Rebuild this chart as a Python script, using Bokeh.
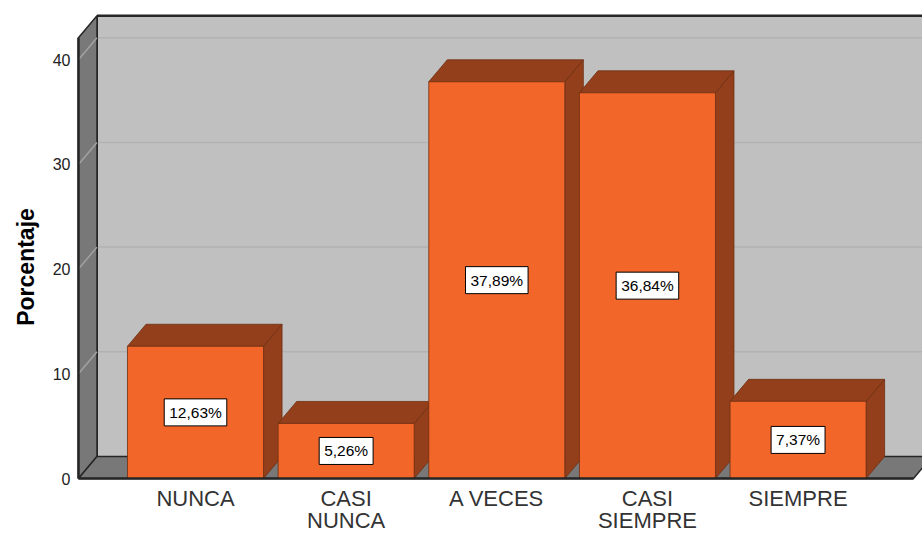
from bokeh.plotting import figure
from bokeh.models import Range1d, FixedTicker
from bokeh.core.properties import value
from bokeh.embed import file_html
from bokeh.resources import INLINE

# ---------------- data ----------------
categories = ["NUNCA", "CASI\nNUNCA", "A VECES", "CASI\nSIEMPRE", "SIEMPRE"]
percentages = [12.63, 5.26, 37.89, 36.84, 7.37]
pct_labels = ["12,63%", "5,26%", "37,89%", "36,84%", "7,37%"]
y_ticks = [0, 10, 20, 30, 40]

# ---------------- style / layout ----------------
FONT = "Liberation Sans"
FRONT = "#f26629"
SHADE = "#933f1b"
EDGE = "#6e2f12"
WALL_BACK = "#c0c0c0"
WALL_SIDE = "#787878"
GRID_BACK = "#b2b2b2"
GRID_SIDE = "#a2a2a2"
DARK = "#262626"

PX_PER_UNIT = 10.47
X_START, X_END = -0.79, 4.826
Y_START, Y_END = -(533 - 478) / PX_PER_UNIT, 478 / PX_PER_UNIT
WALL_X0 = -0.777        # front edge of the left wall
FLOOR_X1 = 4.766        # front right end of the floor
WALL_TOP = 42.1         # top of the walls (front)
DX, DY = 0.123, 2.1     # 3D depth offset
BAR_W = 0.903
CAT_LABEL_Y = -0.75     # top of category labels, below the floor edge

p = figure(width=922, height=533, output_backend="svg", toolbar_location=None,
           x_range=Range1d(X_START, X_END), y_range=Range1d(Y_START, Y_END),
           min_border_left=76, min_border_right=0, min_border_top=0,
           min_border_bottom=0)
p.outline_line_color = None
p.xgrid.visible = False
p.ygrid.visible = False
p.background_fill_color = "white"
p.border_fill_color = "white"

right_far = X_END + 1.0

# back wall
p.quad(left=[WALL_X0 + DX], right=[right_far], bottom=[DY], top=[WALL_TOP + DY],
       fill_color=WALL_BACK, line_color=None)
# back-wall gridlines
gv = y_ticks[1:]
p.segment(x0=[WALL_X0 + DX] * len(gv), y0=[v + DY for v in gv],
          x1=[right_far] * len(gv), y1=[v + DY for v in gv],
          line_color=GRID_BACK, line_width=1.5)
# back wall top and left edges
p.line([WALL_X0 + DX, right_far], [WALL_TOP + DY, WALL_TOP + DY], line_color=DARK, line_width=2.5)
p.line([WALL_X0 + DX, WALL_X0 + DX], [DY, WALL_TOP + DY], line_color=DARK, line_width=2)

# left wall
p.patch([WALL_X0, WALL_X0, WALL_X0 + DX, WALL_X0 + DX],
        [0, WALL_TOP, WALL_TOP + DY, DY],
        fill_color=WALL_SIDE, line_color=DARK, line_width=1.5)
p.segment(x0=[WALL_X0] * len(gv), y0=gv, x1=[WALL_X0 + DX] * len(gv),
          y1=[v + DY for v in gv], line_color=GRID_SIDE, line_width=1.5)

# floor
p.patch([WALL_X0, FLOOR_X1, FLOOR_X1 + DX, WALL_X0 + DX],
        [0, 0, DY, DY], fill_color=WALL_SIDE, line_color=DARK, line_width=1.5)

# bars
xs = list(range(len(percentages)))
side_x, side_y, top_x, top_y = [], [], [], []
lefts, rights = [], []
for i, v in zip(xs, percentages):
    xl, xr = i - BAR_W / 2, i + BAR_W / 2
    lefts.append(xl)
    rights.append(xr)
    side_x.append([xr, xr + DX, xr + DX, xr])
    side_y.append([0, DY, v + DY, v])
    top_x.append([xl, xr, xr + DX, xl + DX])
    top_y.append([v, v, v + DY, v + DY])

p.patches(side_x, side_y, fill_color=SHADE, line_color=EDGE, line_width=0.8)
p.patches(top_x, top_y, fill_color=SHADE, line_color=EDGE, line_width=0.8)
p.quad(left=lefts, right=rights, bottom=[0] * len(xs), top=percentages,
       fill_color=FRONT, line_color=EDGE, line_width=0.8)

# front edges of the walls
p.line([WALL_X0, WALL_X0], [0, WALL_TOP], line_color=DARK, line_width=2.5)
p.line([WALL_X0, FLOOR_X1], [0, 0], line_color=DARK, line_width=2.5)

# value labels
p.text(x=xs, y=[v / 2 for v in percentages], text=pct_labels,
       text_align="center", text_baseline="middle",
       text_font=value(FONT), text_font_size="15.5px", text_color="black",
       background_fill_color="white", border_line_color="black",
       border_line_width=1, padding=5)

# category labels (x axis)
p.text(x=xs, y=[CAT_LABEL_Y] * len(xs), text=categories,
       text_align="center", text_baseline="top", text_line_height=0.86,
       text_font=value(FONT), text_font_size="22px", text_color="#333333")
p.xaxis.visible = False

# y axis
p.yaxis.ticker = FixedTicker(ticks=y_ticks)
p.yaxis.axis_line_color = None
p.yaxis.major_tick_line_color = None
p.yaxis.minor_tick_line_color = None
p.yaxis.major_label_standoff = 0
p.yaxis.major_label_text_font = FONT
p.yaxis.major_label_text_font_size = "16px"
p.yaxis.major_label_text_color = "#222222"
p.yaxis.axis_label = "Porcentaje"
p.yaxis.axis_label_text_font = FONT
p.yaxis.axis_label_text_font_size = "23px"
p.yaxis.axis_label_text_font_style = "bold"
p.yaxis.axis_label_text_color = "black"
p.yaxis.axis_label_standoff = 11

open("out.html", "w").write(file_html(p, INLINE))
